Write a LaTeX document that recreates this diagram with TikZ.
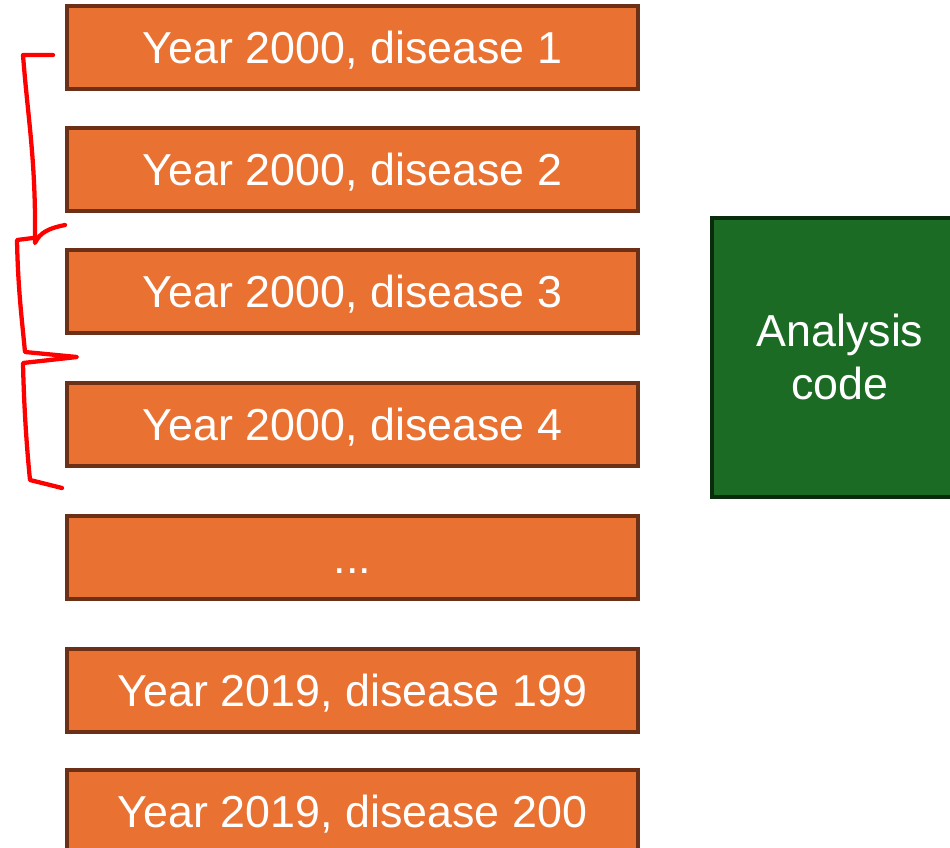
\documentclass[tikz,border=0pt]{standalone}
\usepackage{fontspec}
\setmainfont{Liberation Sans}
\definecolor{boxorange}{HTML}{E97132}
\definecolor{boxbrown}{HTML}{6B3015}
\definecolor{codegreen}{HTML}{1C6B25}
\definecolor{codeborder}{HTML}{0B2B0D}
\begin{document}
\begin{tikzpicture}[x=0.75pt,y=-0.75pt,
  yearbox/.style={draw=boxbrown, fill=boxorange, line width=2.4pt,
    minimum width=571*0.75pt, minimum height=83*0.75pt, inner sep=0pt,
    text=white, font=\fontsize{33.6}{40}\selectfont, text height=24pt, text depth=0pt},
  codebox/.style={draw=codeborder, fill=codegreen, line width=2.4pt,
    minimum width=256*0.75pt, minimum height=279*0.75pt, inner sep=0pt},
  codetext/.style={text=white, font=\fontsize{33.6}{40}\selectfont, inner sep=0pt, anchor=base},
  brace/.style={draw=red, line width=3.2pt, line cap=round, line join=round}]
\useasboundingbox (0,0) rectangle (950,848);
\clip (0,0) rectangle (950,848);
\node[yearbox] (b1) at (352.5,47.5) {Year 2000, disease 1};
\node[yearbox] (b2) at (352.5,169.5) {Year 2000, disease 2};
\node[yearbox] (b3) at (352.5,291.5) {Year 2000, disease 3};
\node[yearbox] (b4) at (352.5,424.5) {Year 2000, disease 4};
\node[yearbox] (b5) at (352.5,557.5) {...};
\node[yearbox] (b6) at (352.5,690.5) {Year 2019, disease 199};
\node[yearbox] (b7) at (352.5,811.5) {Year 2019, disease 200};
\node[codebox] (code) at (840,357.5) {};
\node[codetext] (t1) at (840,347) {Analysis};
\node[codetext] (t2) at (840,400) {code};
% red hand-drawn brackets
\coordinate (r1a) at (53,55);
\coordinate (r1b) at (23,55);
\coordinate (r1c) at (35,243);
\coordinate (r1d) at (65,225);
\draw[brace] (r1a) -- (r1b) .. controls (28,120) and (36,160) .. (r1c)
  .. controls (40,232) and (50,228) .. (r1d);
\coordinate (r2a) at (33,238);
\coordinate (r2b) at (17,240);
\coordinate (r2c) at (25,352);
\coordinate (r2d) at (77,357);
\coordinate (r3a) at (23,363);
\coordinate (r3b) at (30,480);
\coordinate (r3c) at (62,488);
\draw[brace] (r2a) -- (r2b) .. controls (18,290) and (22,320) .. (r2c)
  -- (r2d) -- (r3a) .. controls (24,410) and (27,450) .. (r3b) -- (r3c);
\end{tikzpicture}
\end{document}
